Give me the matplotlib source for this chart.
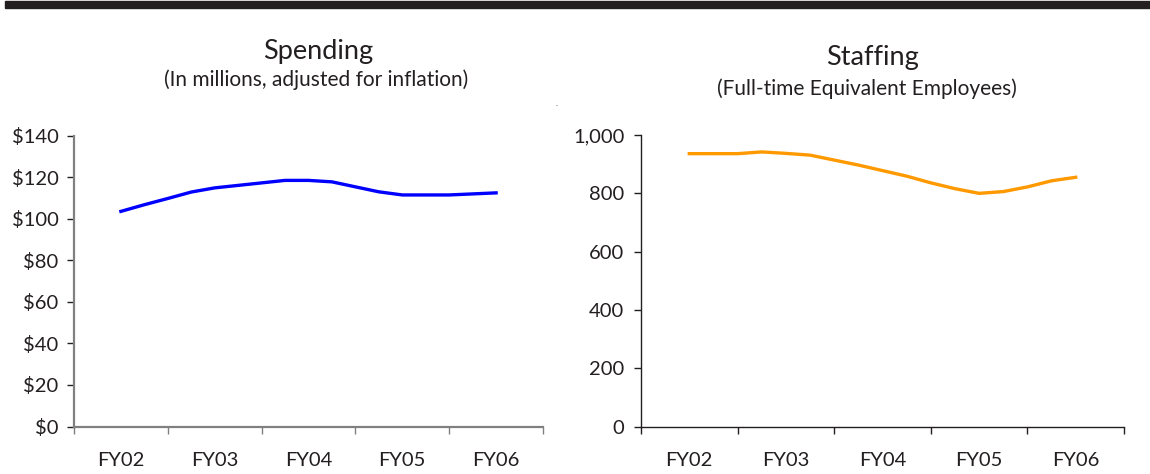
import numpy as np
import matplotlib.pyplot as plt
from matplotlib.patches import Rectangle

plt.rcParams['font.family'] = ['Lato', 'DejaVu Sans']

years = ['FY02', 'FY03', 'FY04', 'FY05', 'FY06']
# quarterly readings from FY02 through FY06
spending = [103.5, 106.7, 109.7, 112.8, 114.8, 116.0, 117.2, 118.4, 118.4,
            117.7, 115.3, 112.9, 111.4, 111.4, 111.4, 111.9, 112.4]
staffing = [936, 936, 936, 942, 937, 931, 914, 897, 878,
            859, 836, 816, 800, 806, 822, 843, 855]

xq = np.arange(len(spending)) / 4.0

fig = plt.figure(figsize=(11.5, 4.74), dpi=100)

# dark bar across the top
fig.patches.append(Rectangle((5 / 1150, 1 - 8 / 474), 1, 7 / 474,
                             transform=fig.transFigure, color='#231f20'))

H = 474.0
W = 1150.0
ax1 = fig.add_axes([74 / W, 1 - 426.5 / H, (543 - 74) / W, (426.5 - 135.5) / H])
ax2 = fig.add_axes([641 / W, 1 - 426.7 / H, (1124 - 641) / W, (426.7 - 135) / H])


def style(ax, spine_col, lw):
    for s in ['top', 'right']:
        ax.spines[s].set_visible(False)
    for s in ['left', 'bottom']:
        ax.spines[s].set_color(spine_col)
        ax.spines[s].set_linewidth(lw)
    ax.set_xlim(-0.5, 4.5)
    ax.set_xticks(range(len(years)))
    ax.set_xticklabels(years, fontsize=14.5, color='#231f20')
    ax.set_xticks(np.arange(-0.5, 5.0, 1.0), minor=True)
    ax.tick_params(axis='x', which='major', length=0, pad=18)
    ax.tick_params(axis='x', which='minor', length=5, width=1, color=spine_col, direction='out')
    ax.tick_params(axis='y', length=5, width=1, color='#231f20', pad=6, labelsize=14.5,
                   labelcolor='#231f20')


ax1.plot(xq, spending, color='#0000ff', linewidth=2.4, solid_joinstyle='round')
style(ax1, '#808080', 1.6)
ax1.set_ylim(0, 140)
ax1.set_yticks(range(0, 141, 20))
ax1.set_yticklabels(['$%d' % v for v in range(0, 141, 20)])

ax2.plot(xq, staffing, color='#ff9900', linewidth=2.4, solid_joinstyle='round')
style(ax2, '#231f20', 1.0)
ax2.set_ylim(0, 1000)
ax2.set_yticks(range(0, 1001, 200))
ax2.set_yticklabels(['{:,}'.format(v) for v in range(0, 1001, 200)])
ax2.tick_params(axis='y', pad=7)

fig.text(318 / W, 1 - 51 / H, 'Spending', ha='center', va='center', fontsize=19.5, color='#231f20')
fig.text(316 / W, 1 - 80 / H, '(In millions, adjusted for inflation)', ha='center', va='center',
         fontsize=15, color='#231f20')
fig.text(872 / W, 1 - 58 / H, 'Staffing', ha='center', va='center', fontsize=19.5, color='#231f20')
fig.text(867 / W, 1 - 89 / H, '(Full-time Equivalent Employees)', ha='center', va='center',
         fontsize=15, color='#231f20')
fig.text(557 / W, 1 - 103 / H, '.', ha='center', va='center', fontsize=6, color='#555555')

fig.savefig('out.png', dpi=100)
